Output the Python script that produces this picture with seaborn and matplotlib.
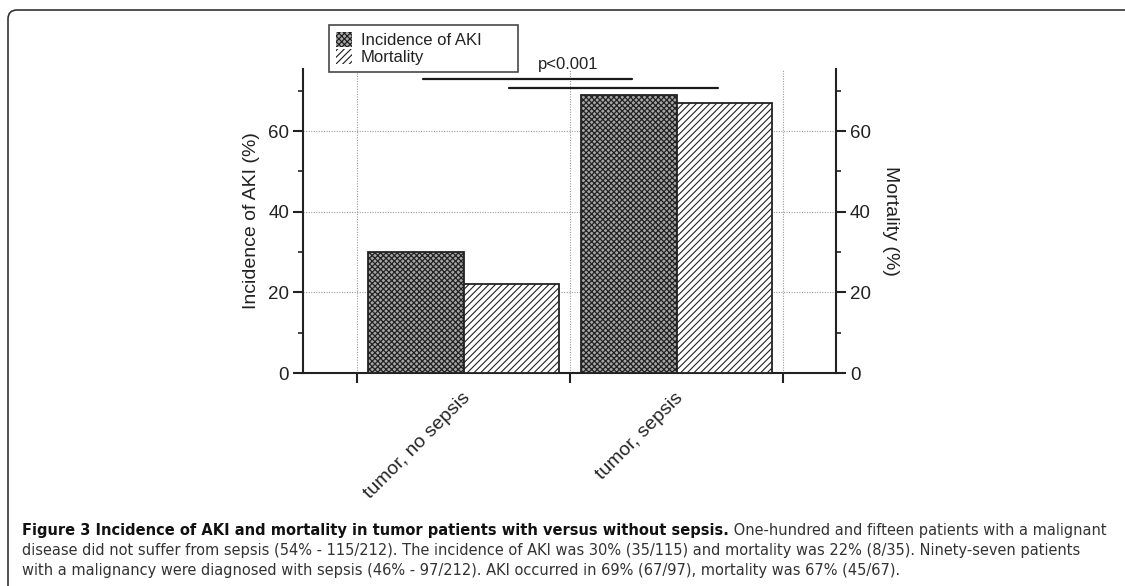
import matplotlib
matplotlib.use("Agg")
import matplotlib.pyplot as plt
import matplotlib.transforms as mtrans
from matplotlib import font_manager
from matplotlib.font_manager import FontProperties
from matplotlib.patches import Patch, PathPatch
from matplotlib.path import Path
import seaborn as sns
import pandas as pd

# ---- data -------------------------------------------------------------
groups = ["tumor, no sepsis", "tumor, sepsis"]
aki_incidence = [30, 69]      # % incidence of AKI
mortality = [22, 67]          # % mortality
measures = ["Incidence of AKI", "Mortality"]
y_ticks = [0, 20, 40, 60]
y_minor = [10, 30, 50, 70]
p_label = "p<0.001"

caption_bold = "Figure 3 Incidence of AKI and mortality in tumor patients with versus without sepsis."
caption_lines = [
    " One-hundred and fifteen patients with a malignant",
    "disease did not suffer from sepsis (54% - 115/212). The incidence of AKI was 30% (35/115) and mortality was 22% (8/35). Ninety-seven patients",
    "with a malignancy were diagnosed with sepsis (46% - 97/212). AKI occurred in 69% (67/97), mortality was 67% (45/67).",
]

df = pd.DataFrame({
    "group": groups * 2,
    "measure": [measures[0]] * len(groups) + [measures[1]] * len(groups),
    "value": aki_incidence + mortality,
})

# ---- style ------------------------------------------------------------
sns.set_style("ticks")
plt.rcParams["font.family"] = ["Liberation Sans", "DejaVu Sans"]
plt.rcParams["hatch.linewidth"] = 0.8
plt.rcParams["hatch.color"] = "#1a1a1a"

INK = "#222222"
W, H = 1125, 586
fig = plt.figure(figsize=(W / 100, H / 100), dpi=100)
fig.patch.set_facecolor("white")


def fx(px):
    return px / W


def fy(py):
    return 1 - py / H


ax = fig.add_axes([fx(303), fy(373), fx(836) - fx(303), fy(69) - fy(373)])

hatches = {measures[0]: "xxxxxx", measures[1]: "/////"}
hatch_lw = {measures[0]: 0.9, measures[1]: 0.8}
faces = {measures[0]: "#a6a6a6", measures[1]: "white"}

sns.barplot(data=df, x="group", y="value", hue="measure", order=groups,
            hue_order=measures, palette=[faces[m] for m in measures], width=0.9,
            gap=0, edgecolor=INK, linewidth=1.3, errorbar=None, legend=False,
            ax=ax, zorder=3)

for cont, m in zip(ax.containers, measures):
    for bar in cont:
        bar.set_hatch(hatches[m])
        bar.set_facecolor(faces[m])
        bar.set_edgecolor(INK)
        if hasattr(bar, "set_hatch_linewidth"):
            bar.set_hatch_linewidth(hatch_lw[m])

ymax = 75.4
ax.set_xlim(-0.754, 1.749)
ax.set_ylim(0, ymax)

# dotted grid
grid_kw = dict(color="#9a9a9a", lw=0.8, ls=(0, (1, 1.3)), zorder=1)
for y in y_ticks[1:]:
    ax.axhline(y, **grid_kw)
for x in [-0.5, 0.5, 1.5]:
    ax.axvline(x, **grid_kw)

# spines
ax.spines["top"].set_visible(False)
ax.spines["right"].set_visible(False)
for s in ["left", "bottom"]:
    ax.spines[s].set_linewidth(1.5)
    ax.spines[s].set_color(INK)

# left y axis
ax.set_yticks(y_ticks)
ax.set_yticks(y_minor, minor=True)
ax.tick_params(axis="y", which="major", length=7, width=1.5, labelsize=13.5,
               colors=INK, pad=3)
ax.tick_params(axis="y", which="minor", length=3.5, width=1.2, colors=INK)
ax.set_ylabel("Incidence of AKI (%)", fontsize=14, color=INK, labelpad=6)

# x axis: separator ticks between groups, labels at group centres
ax.set_xticks([-0.5, 0.5, 1.5])
ax.set_xticklabels([])
ax.tick_params(axis="x", which="major", length=7, width=1.5, colors=INK,
               direction="out")
ax.set_xticks([0, 1], minor=True)
ax.set_xticklabels(groups, minor=True, rotation=45, ha="right",
                   rotation_mode="anchor", fontsize=14, color=INK)
ax.tick_params(axis="x", which="minor", length=0, pad=12)
ax.set_xlabel("")
off = mtrans.ScaledTranslation(-2 / 100, 0, fig.dpi_scale_trans)
for lab in ax.get_xticklabels(minor=True):
    lab.set_transform(lab.get_transform() + off)

# right y axis (mortality, same scale)
ax2 = ax.twinx()
ax2.set_ylim(0, ymax)
ax2.set_yticks(y_ticks)
ax2.set_yticks(y_minor, minor=True)
for s in ["top", "left", "bottom"]:
    ax2.spines[s].set_visible(False)
ax2.spines["right"].set_linewidth(1.5)
ax2.spines["right"].set_color(INK)
ax2.tick_params(axis="y", which="major", length=7, width=1.5, labelsize=13.5,
                colors=INK, pad=3)
ax2.tick_params(axis="y", which="minor", length=3.5, width=1.2, colors=INK)
ax2.set_ylabel("Mortality (%)", fontsize=14, color=INK, rotation=-90,
               labelpad=20)

# significance bars
ax.plot([-0.19, 0.79], [73.0, 73.0], color="#1a1a1a", lw=1.6, clip_on=False, zorder=4)
ax.plot([0.214, 1.196], [70.7, 70.7], color="#1a1a1a", lw=1.6, clip_on=False, zorder=4)
ax.text(0.49, 76.6, p_label, ha="center", va="center", fontsize=12,
        color=INK, clip_on=False)

# legend
handles = []
for m in measures:
    h = Patch(facecolor=faces[m], edgecolor="#1a1a1a", hatch=hatches[m], linewidth=0)
    if hasattr(h, "set_hatch_linewidth"):
        h.set_hatch_linewidth(hatch_lw[m])
    handles.append(h)
leg = fig.legend(handles, measures, loc="upper left",
                 bbox_to_anchor=(fx(329), fy(71), fx(518) - fx(329), fy(25) - fy(71)),
                 mode="expand", borderaxespad=0, fontsize=12, frameon=True,
                 fancybox=False, handlelength=1.0, handleheight=1.0,
                 handletextpad=0.5, labelspacing=0.05, borderpad=0.4)
leg.get_frame().set_edgecolor("#1a1a1a")
leg.get_frame().set_linewidth(1.2)
for t in leg.get_texts():
    t.set_color(INK)

# panel frame: top and left edges with a rounded corner
r = 9
verts = [(fx(1125), fy(10)), (fx(8 + r), fy(10)), (fx(8), fy(10)), (fx(8), fy(10 + r)),
         (fx(8), fy(586))]
codes = [Path.MOVETO, Path.LINETO, Path.CURVE3, Path.CURVE3, Path.LINETO]
fig.add_artist(PathPatch(Path(verts, codes), facecolor="none", edgecolor="#333333",
                         lw=1.2, transform=fig.transFigure))

# ---- caption ----------------------------------------------------------
renderer = fig.canvas.get_renderer()
caption_families = ["Noto Sans", "Open Sans", "Lato", "Roboto", "Liberation Sans",
                    "Liberation Sans Narrow", "DejaVu Sans", "Inter"]


def weight_num(w):
    if isinstance(w, (int, float)):
        return int(w)
    return {"normal": 400, "regular": 400, "book": 400, "medium": 500,
            "semibold": 600, "demibold": 600, "bold": 700}.get(str(w).lower(), 400)


# regular + bold font files, grouped by family and width
fonts = {}
for f in font_manager.fontManager.ttflist:
    if f.style != "normal":
        continue
    if not any(f.name == fam or f.name.startswith(fam + " ") for fam in caption_families):
        continue
    if "Mono" in f.name or "Serif" in f.name or "Display" in f.name:
        continue
    key = (f.name, str(f.stretch))
    w = weight_num(f.weight)
    if w == 400:
        fonts.setdefault(key, {})["regular"] = f.fname
    elif w == 700:
        fonts.setdefault(key, {})["bold"] = f.fname


def width_px(text, fname, size):
    t = fig.text(0, 0, text, fontproperties=FontProperties(fname=fname, size=size))
    w = t.get_window_extent(renderer).width
    t.remove()
    return w


target_size = 11.8
best = None
for key, d in fonts.items():
    if "regular" not in d or "bold" not in d:
        continue
    w1 = width_px(caption_bold, d["bold"], 12) + width_px(caption_lines[0], d["regular"], 12)
    w2 = width_px(caption_lines[1], d["regular"], 12)
    size = min(12 * (1103 - 22) / w1, 12 * (1090 - 22) / w2)
    score = abs(size - target_size)
    if best is None or score < best[0]:
        best = (score, size, d)

if best is None:
    cap_size = 10.5
    fp_bold = FontProperties(family="DejaVu Sans", weight="bold", size=cap_size)
    fp_reg = FontProperties(family="DejaVu Sans", size=cap_size)
else:
    _, cap_size, cap_files = best
    fp_bold = FontProperties(fname=cap_files["bold"], size=cap_size)
    fp_reg = FontProperties(fname=cap_files["regular"], size=cap_size)

x0 = fx(22)
tb = fig.text(x0, fy(535), caption_bold, fontproperties=fp_bold,
              color="#111111", va="baseline")
bw = tb.get_window_extent(renderer).width
fig.text(x0 + bw / W, fy(535), caption_lines[0], fontproperties=fp_reg,
         color="#333333", va="baseline")
fig.text(x0, fy(555), caption_lines[1], fontproperties=fp_reg,
         color="#333333", va="baseline")
fig.text(x0, fy(575), caption_lines[2], fontproperties=fp_reg,
         color="#333333", va="baseline")

fig.savefig("out.png", dpi=100, facecolor="white")
